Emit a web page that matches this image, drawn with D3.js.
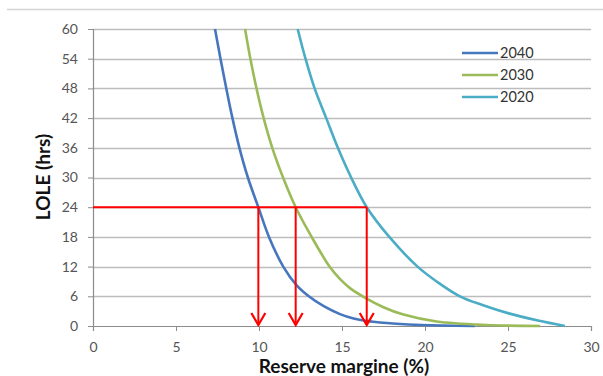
<!DOCTYPE html>
<html>
<head>
<meta charset="utf-8">
<script src="https://cdn.jsdelivr.net/npm/d3@7"></script>
<style>
  body { margin: 0; background: #fff; }
  svg text { font-family: Lato, "Open Sans", sans-serif; }
</style>
</head>
<body>
<svg id="chart" width="603" height="376"></svg>
<script>
// curves: [reserve margin %, LOLE hrs]
const lole2040 = [[7.35,60],[7.68,54],[8.03,48],[8.40,42],[8.82,36],[9.33,30],[9.96,24],[10.6,18],[11.46,12],[12.27,8.2],[13.0,6],[13.9,4.0],[14.88,2.4],[15.7,1.5],[16.5,1.0],[17.5,0.65],[19,0.3],[21,0.1],[23,0.02]];
const lole2030 = [[9.16,60],[9.48,54],[9.85,48],[10.28,42],[10.8,36],[11.45,30],[12.21,24],[13.17,18],[14.25,12],[14.9,9.4],[15.5,7.6],[16.4,5.7],[17.5,3.8],[18.7,2.3],[20.7,0.9],[23.7,0.2],[26.93,0]];
const lole2020 = [[12.33,60],[12.8,54],[13.35,48],[14.05,42],[14.75,36],[15.55,30],[16.49,24],[17.85,18],[19.55,12],[20.7,9],[22.1,6],[23.5,4.2],[25.1,2.5],[26.8,1.1],[28.43,0]];
const series = [
  { name: "2040", data: lole2040, color: "#4677be" },
  { name: "2030", data: lole2030, color: "#9bbb59" },
  { name: "2020", data: lole2020, color: "#4bacc6" }
];
const targetLole = 24;
const crossings = [9.96, 12.21, 16.49];
const xTicks = [0, 5, 10, 15, 20, 25, 30];
const yTicks = [0, 6, 12, 18, 24, 30, 36, 42, 48, 54, 60];

const svg = d3.select("#chart");
const x = d3.scaleLinear().domain([0, 30]).range([93, 591]);
const y = d3.scaleLinear().domain([0, 60]).range([326, 29]);

// top frame line
svg.append("line").attr("x1", 7).attr("x2", 603).attr("y1", 9.5).attr("y2", 9.5)
  .attr("stroke", "#d4d4d4").attr("stroke-width", 1.5);

// gridlines
svg.append("g").selectAll("line").data(yTicks.filter(d => d > 0)).join("line")
  .attr("x1", x(0)).attr("x2", x(30))
  .attr("y1", d => Math.round(y(d)) + 0.5).attr("y2", d => Math.round(y(d)) + 0.5)
  .attr("stroke", "#bdbdbd").attr("stroke-width", 1.5);

// axes
const yAxis = svg.append("g").attr("transform", `translate(${x(0)},0)`)
  .call(d3.axisLeft(y).tickValues(yTicks).tickSize(5).tickPadding(10));
const xAxis = svg.append("g").attr("transform", `translate(0,${y(0)})`)
  .call(d3.axisBottom(x).tickValues(xTicks).tickSize(5).tickPadding(11));
[yAxis, xAxis].forEach(g => {
  g.select(".domain").attr("stroke", "#8c8c8c").attr("stroke-width", 1.2);
  g.selectAll(".tick line").attr("stroke", "#8c8c8c");
  g.selectAll(".tick text").attr("fill", "#555").style("font-size", "14px")
    .style("font-family", "Lato, sans-serif");
});

// curves
const line = d3.line().x(d => x(d[0])).y(d => y(d[1])).curve(d3.curveCatmullRom.alpha(0.5));
svg.append("g").selectAll("path").data(series).join("path")
  .attr("d", d => line(d.data))
  .attr("fill", "none").attr("stroke", d => d.color).attr("stroke-width", 2.6);

// red guide lines and arrows
const red = svg.append("g").attr("stroke", "#ff0000").attr("stroke-width", 2).attr("fill", "none");
red.append("line").attr("x1", x(0)).attr("x2", x(d3.max(crossings)))
  .attr("y1", y(targetLole)).attr("y2", y(targetLole));
crossings.forEach(c => {
  red.append("line").attr("x1", x(c)).attr("x2", x(c))
    .attr("y1", y(targetLole)).attr("y2", y(0) - 1);
  red.append("path")
    .attr("d", `M${x(c) - 7},${y(0) - 13} L${x(c)},${y(0) - 1} L${x(c) + 7},${y(0) - 13}`)
    .attr("stroke-width", 2.2);
});

// legend
const legend = svg.append("g").selectAll("g").data(series).join("g")
  .attr("transform", (d, i) => `translate(462,${53 + i * 22})`);
legend.append("line").attr("x1", 0).attr("x2", 36)
  .attr("stroke", d => d.color).attr("stroke-width", 2.6);
legend.append("text").attr("x", 38).attr("dy", "0.35em")
  .attr("fill", "#333").style("font-size", "14.5px").text(d => d.name);

// axis titles
svg.append("text").attr("x", 344).attr("y", 373).attr("text-anchor", "middle")
  .style("font-size", "19px").style("font-weight", "bold").attr("fill", "#111")
  .text("Reserve margine (%)");
svg.append("text").attr("transform", "translate(50,177) rotate(-90)")
  .attr("text-anchor", "middle").style("font-size", "19px").style("font-weight", "bold")
  .attr("fill", "#111").text("LOLE (hrs)");
</script>
</body>
</html>
